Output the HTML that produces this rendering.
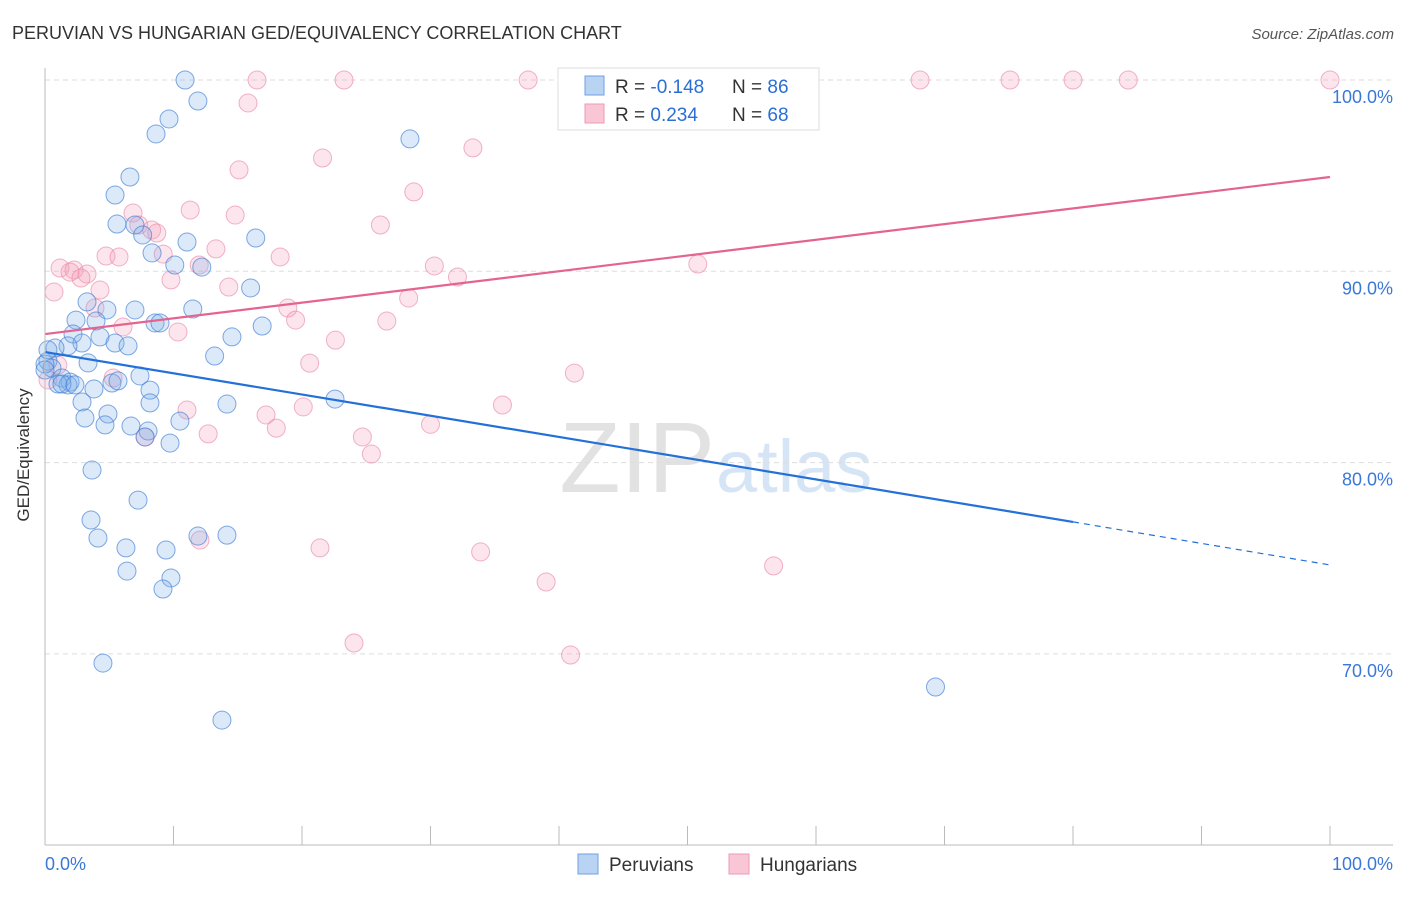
<!DOCTYPE html>
<html><head><meta charset="utf-8"><style>
body{margin:0;background:#fff;font-family:"Liberation Sans",sans-serif;}
svg text{font-family:"Liberation Sans",sans-serif;}
</style></head><body>
<svg id="c" width="1406" height="892" xmlns="http://www.w3.org/2000/svg">
<text x="12" y="39" font-size="18" fill="#333">PERUVIAN VS HUNGARIAN GED/EQUIVALENCY CORRELATION CHART</text>
<text x="1394" y="39" font-size="15" fill="#555" font-style="italic" text-anchor="end">Source: ZipAtlas.com</text>
<text x="715" y="492" font-size="100" fill="#e2e2e2" font-family="Liberation Serif" text-anchor="end">ZIP</text>
<text x="716" y="492" font-size="74" fill="#d6e5f6">atlas</text>
<g id="grid"></g><g id="pts"></g><g id="lines"></g>
<line x1="45" y1="68" x2="45" y2="845" stroke="#bbb"/>
<line x1="45" y1="845" x2="1393" y2="845" stroke="#bbb"/>
<text x="29" y="455" font-size="17" fill="#333" transform="rotate(-90 29 455)" text-anchor="middle">GED/Equivalency</text>
<text x="45" y="870" font-size="18" fill="#3a78d8">0.0%</text>
<text x="1393" y="870" font-size="18" fill="#3a78d8" text-anchor="end">100.0%</text>
<g>
<rect x="558" y="68" width="261" height="62" fill="#fff" stroke="#ddd"/>
<rect x="585" y="76" width="19" height="19" fill="#b9d3f3" stroke="#6f9fe0"/>
<rect x="585" y="104" width="19" height="19" fill="#f9c6d6" stroke="#ee99b4"/>
<text x="615" y="93" font-size="19" fill="#333">R = <tspan fill="#2a6fd6">-0.148</tspan></text>
<text x="732" y="93" font-size="19" fill="#333">N = <tspan fill="#2a6fd6">86</tspan></text>
<text x="615" y="121" font-size="19" fill="#333">R = <tspan fill="#2a6fd6"> 0.234</tspan></text>
<text x="732" y="121" font-size="19" fill="#333">N = <tspan fill="#2a6fd6">68</tspan></text>
</g>
<g>
<rect x="578" y="854" width="20" height="20" fill="#b9d3f3" stroke="#6f9fe0"/>
<text x="609" y="871" font-size="19" fill="#333">Peruvians</text>
<rect x="729" y="854" width="20" height="20" fill="#f9c6d6" stroke="#ee99b4"/>
<text x="760" y="871" font-size="19" fill="#333">Hungarians</text>
</g>
</svg>
<script>
const yTicks=[100,90,80,70];
const yTickLabels=["100.0%","90.0%","80.0%","70.0%"];
const xTicks=[0,10,20,30,40,50,60,70,80,90,100];
const peruX=[10.9,11.9,9.65,8.64,6.61,5.45,5.6,7.0,7.6,11.05,16.4,8.33,10.1,12.2,16.0,3.27,4.82,7.0,11.5,2.41,3.97,8.56,8.95,16.9,14.55,2.18,4.28,5.45,6.46,2.88,1.79,0.78,13.2,3.35,0.23,0.54,0,1.32,1.95,1.79,5.21,5.68,7.39,8.17,3.81,2.88,8.17,4.9,3.11,10.5,4.67,6.69,8.02,9.73,7.78,14.16,22.57,28.4,3.66,7.24,3.58,4.12,6.3,9.42,11.9,14.16,6.38,9.8,9.18,4.51,13.77,69.3,0,1.01,1.32,2.33,0.23];
const peruY=[100,98.9,97.96,97.18,94.93,93.99,92.47,92.42,91.9,91.53,91.74,90.96,90.33,90.22,89.13,88.4,87.98,87.98,88.03,87.45,87.4,87.3,87.3,87.14,86.57,86.72,86.57,86.25,86.1,86.25,86.1,85.99,85.57,85.21,85.31,84.94,85.15,84.42,84.21,84.06,84.16,84.27,84.53,83.79,83.85,83.17,83.12,82.54,82.33,82.17,81.97,81.91,81.65,81.02,81.34,83.06,83.32,96.92,79.61,78.04,77.0,76.06,75.54,75.43,76.16,76.21,74.33,73.97,73.39,69.52,66.54,68.27,84.84,84.11,84.11,84.06,85.89];
const hunX=[16.5,23.27,37.6,53.8,68.1,75.1,80.0,84.3,100,15.8,33.3,21.6,15.1,28.7,11.3,14.8,6.85,26.1,7.3,8.3,8.7,13.3,4.75,5.76,18.3,9.2,1.17,2.26,3.27,1.95,2.8,30.3,32.1,50.8,12.0,14.3,4.28,0.7,28.3,9.8,18.9,19.5,26.6,6.07,3.89,10.35,22.6,20.6,1.0,5.3,41.2,35.6,11.05,17.2,20.1,18.0,30.0,12.7,24.7,7.8,25.4,12.06,21.4,33.9,39.0,56.7,24.05,40.9,0.23];
const hunY=[100,100,100,100,100,100,100,100,100,98.8,96.45,95.92,95.3,94.15,93.2,92.94,93.05,92.42,92.42,92.16,92.0,91.17,90.8,90.75,90.75,90.9,90.17,90.07,89.86,89.96,89.65,90.28,89.7,90.38,90.33,89.18,89.02,88.92,88.6,89.55,88.08,87.45,87.4,87.09,88.08,86.83,86.4,85.2,85.1,84.42,84.68,83.01,82.75,82.49,82.91,81.8,82.0,81.5,81.34,81.34,80.45,75.95,75.54,75.33,73.76,74.6,70.57,69.94,84.32];
const peruTrend=[85.78,76.9,74.65]; // at x=0, 80, 100
const hunTrend=[86.72,94.93]; // at x=0, 100
const NS="http://www.w3.org/2000/svg";
const sx=v=>45+v*12.85, sy=v=>80+(100-v)*19.13;
function mk(t,a,p){const e=document.createElementNS(NS,t);for(const k in a)e.setAttribute(k,a[k]);p.appendChild(e);return e;}
const grid=document.getElementById('grid');
yTicks.forEach((t,i)=>{
 const l=mk('line',{x1:45,x2:1393,y1:sy(t),y2:sy(t),stroke:'#ddd','stroke-dasharray':'5,4'},grid);
 
 
 const tx=mk('text',{x:1393,y:sy(t)+23,'font-size':18,fill:'#3a78d8','text-anchor':'end'},grid);
 tx.textContent=yTickLabels[i];
 
 
});
xTicks.forEach(t=>{
 const l=mk('line',{x1:sx(t),x2:sx(t),y1:826,y2:845,stroke:'#bbb'},grid);
 
 
});
const pts=document.getElementById('pts');
hunX.forEach((x,i)=>{
 const c=mk('circle',{cx:sx(x),cy:sy(hunY[i]),r:9,fill:'rgba(244,160,188,0.28)',stroke:'rgba(232,130,165,0.6)','stroke-width':1},pts);
 
 
});
peruX.forEach((x,i)=>{
 const c=mk('circle',{cx:sx(x),cy:sy(peruY[i]),r:9,fill:'rgba(130,175,232,0.28)',stroke:'rgba(60,125,212,0.65)','stroke-width':1},pts);
 
 
});
const lines=document.getElementById('lines');
let a=mk('line',{x1:sx(0),y1:sy(hunTrend[0]),x2:sx(100),y2:sy(hunTrend[1]),stroke:'#e4648f','stroke-width':2.2},lines);


let b=mk('line',{x1:sx(0),y1:sy(peruTrend[0]),x2:sx(80),y2:sy(peruTrend[1]),stroke:'#2370d8','stroke-width':2.2},lines);


let d=mk('line',{x1:sx(80),y1:sy(peruTrend[1]),x2:sx(100),y2:sy(peruTrend[2]),stroke:'#2370d8','stroke-width':1.2,'stroke-dasharray':'6,5'},lines);


</script>
</body></html>
